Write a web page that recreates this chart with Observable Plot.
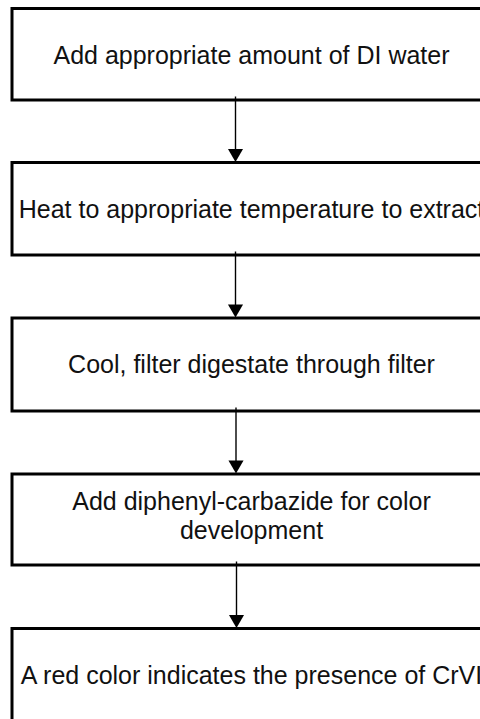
<!DOCTYPE html>
<html>
<head>
<meta charset="utf-8">
<script src="https://cdn.jsdelivr.net/npm/d3@7"></script>
<script src="https://cdn.jsdelivr.net/npm/@observablehq/plot@0.6"></script>
<style>
  html, body { margin: 0; padding: 0; background: #fff; }
  #chart svg { display: block; }
</style>
</head>
<body>
<div id="chart"></div>
<script>
// Flowchart steps (top to bottom)
const steps = [
  "Add appropriate amount of DI water",
  "Heat to appropriate temperature to extract",
  "Cool, filter digestate through filter",
  "Add diphenyl-carbazide for color\ndevelopment",
  "A red color indicates the presence of CrVI"
];
const stepOrder = [0, 1, 2, 3, 4];

// layout (pixel space)
const W = 480, H = 719;
const boxTops = [8.5, 162.5, 318, 474, 628.5];
const boxH = [91.5, 92.5, 93, 91, 95];
const textShift = [0, 0, 0, -5, 0];
const boxX1 = 12, boxX2 = 490;
const textX = 251;
const arrowX = [235, 235, 235.5, 236];

const boxes = stepOrder.map(i => ({
  label: steps[i],
  y1: boxTops[i],
  y2: boxTops[i] + boxH[i],
  cy: boxTops[i] + Math.min(boxH[i], 91.5) / 2 + textShift[i]
}));
const arrows = boxes.slice(0, -1).map((b, i) => ({
  x: arrowX[i],
  y1: b.y2 - 4,
  y2: boxes[i + 1].y1 - 1
}));

const chart = Plot.plot({
  width: W,
  height: H,
  margin: 0,
  x: {domain: [0, W], range: [0, W], axis: null},
  y: {domain: [0, H], range: [0, H], axis: null},
  style: {background: "#fff", fontFamily: "'Liberation Sans', Arial, sans-serif"},
  marks: [
    Plot.rect(boxes, {x1: boxX1, x2: boxX2, y1: "y1", y2: "y2", fill: "#fff", stroke: "#000", strokeWidth: 3}),
    Plot.link(arrows, {x1: "x", x2: "x", y1: "y1", y2: d => d.y2 - 10, stroke: "#000", strokeWidth: 1.4}),
    Plot.dot(arrows, {x: "x", y: d => d.y2 - 8.7, symbol: "triangle", rotate: 180, r: 5.6, fill: "#000", stroke: "none"}),
    Plot.text(boxes, {x: textX, y: "cy", text: "label", fontSize: 25, lineHeight: 1.15, textAnchor: "middle", fill: "#111"})
  ]
});
document.getElementById("chart").appendChild(chart);
</script>
</body>
</html>
